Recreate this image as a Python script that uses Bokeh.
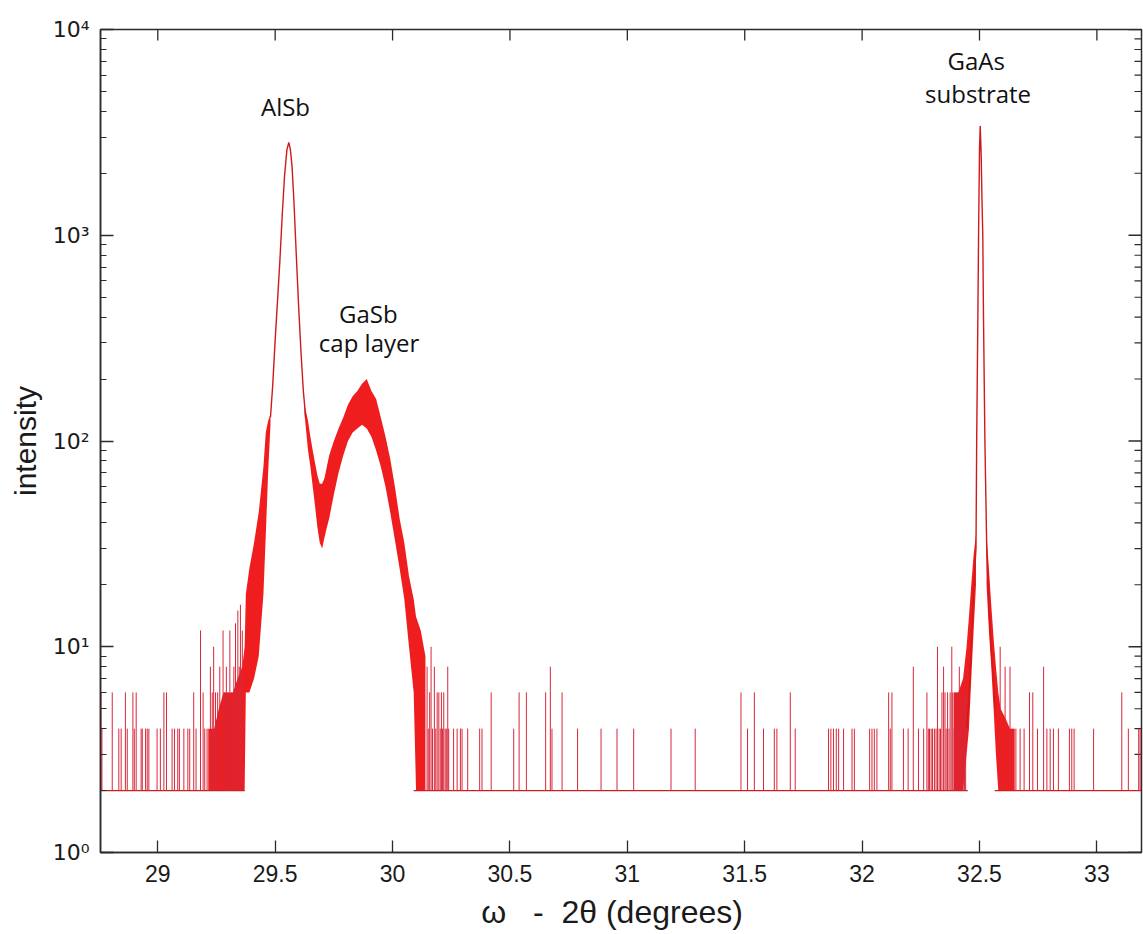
import math

from bokeh.plotting import figure
from bokeh.models import Range1d, FixedTicker, Label
from bokeh.embed import file_html
from bokeh.resources import INLINE

# ---- axis limits and ticks -------------------------------------------------
X_MIN, X_MAX = 28.756, 33.19
Y_MIN, Y_MAX = 1.0, 1.0e4
BASE = 2  # background count level of the scan

x_ticks = [29, 29.5, 30, 30.5, 31, 31.5, 32, 32.5, 33]
x_tick_labels = ["29", "29.5", "30", "30.5", "31", "31.5", "32", "32.5", "33"]
y_decades = [0, 1, 2, 3, 4]
y_tick_labels = ["10\u2070", "10\u00b9", "10\u00b2", "10\u00b3", "10\u2074"]

# ---- scan data ---------------------------------------------------------------
# stretches where the trace sits on the background level
baseline_spans = [(28.756, 29.37), (30.09, 32.45), (32.565, 33.19)]

# isolated background counts (position, intensity)
left_spikes = [
    (28.758, 6), (28.762, 4), (28.806, 6), (28.834, 4), (28.844, 4), (28.862, 6),
    (28.870, 4), (28.894, 6), (28.900, 4), (28.908, 6), (28.929, 4), (28.934, 4),
    (28.948, 4), (28.955, 4), (28.962, 4), (28.997, 4), (29.011, 4), (29.026, 6),
    (29.037, 6), (29.061, 4), (29.071, 4), (29.085, 4), (29.092, 4), (29.111, 4),
    (29.128, 4), (29.136, 4), (29.153, 6), (29.163, 4), (29.182, 12), (29.193, 6),
    (29.200, 4), (29.210, 4), (29.224, 8), (29.232, 6), (29.238, 10), (29.246, 6),
    (29.255, 6), (29.264, 8), (29.278, 12), (29.285, 6), (29.292, 8), (29.298, 6),
    (29.307, 12), (29.316, 6), (29.324, 8), (29.331, 13), (29.341, 15), (29.347, 8),
    (29.352, 16), (29.360, 12),
]
mid_spikes = [
    (30.147, 8), (30.152, 4), (30.158, 6), (30.164, 10), (30.170, 4), (30.178, 8),
    (30.184, 4), (30.190, 6), (30.197, 6), (30.203, 4), (30.208, 6), (30.213, 4),
    (30.218, 6), (30.224, 4), (30.229, 4), (30.235, 8), (30.239, 4), (30.260, 4),
    (30.275, 4), (30.289, 4), (30.296, 4), (30.320, 4), (30.371, 4), (30.381, 4),
    (30.420, 6), (30.516, 4), (30.539, 6), (30.570, 6), (30.652, 6), (30.672, 8),
    (30.679, 4), (30.722, 6), (30.788, 4), (30.888, 4), (30.956, 4), (31.027, 4),
    (31.186, 4), (31.289, 4), (31.484, 6), (31.512, 4), (31.541, 6), (31.580, 4),
    (31.626, 4), (31.637, 4), (31.694, 6), (31.715, 4), (31.857, 4), (31.867, 4),
    (31.878, 4), (31.890, 4), (31.900, 4), (31.921, 4), (31.957, 4), (31.967, 4),
    (32.032, 4), (32.042, 4), (32.052, 4), (32.063, 4),
]
gaas_left_spikes = [
    (32.113, 6), (32.120, 4), (32.127, 6), (32.176, 4), (32.196, 4), (32.218, 8),
    (32.240, 4), (32.262, 4), (32.276, 6), (32.282, 4), (32.287, 4), (32.294, 4),
    (32.300, 4), (32.308, 4), (32.315, 4), (32.321, 10), (32.328, 4), (32.334, 4),
    (32.340, 6), (32.347, 8), (32.353, 6), (32.358, 4), (32.364, 6), (32.370, 4),
    (32.375, 6), (32.382, 10), (32.386, 6), (32.392, 4), (32.397, 6), (32.403, 4),
    (32.408, 6), (32.414, 8), (32.419, 6), (32.425, 4), (32.430, 6), (32.436, 6),
    (32.441, 8),
]
right_spikes = [
    (32.588, 10), (32.609, 8), (32.630, 8), (32.640, 4), (32.655, 4), (32.673, 4),
    (32.690, 4), (32.713, 6), (32.727, 6), (32.747, 4), (32.773, 8), (32.787, 4),
    (32.801, 4), (32.815, 4), (32.836, 4), (32.883, 4), (32.893, 4), (32.903, 4),
    (32.986, 4), (33.106, 6), (33.134, 4), (33.178, 4), (33.184, 4),
]

# noisy stretches: lower and upper envelope of the counts
flank_x  = [29.215, 29.24, 29.26, 29.28, 29.30, 29.32, 29.34, 29.36, 29.37, 29.375,
            29.39, 29.41, 29.43, 29.45, 29.46, 29.47, 29.48]
flank_lo = [2, 2, 2, 2, 2, 2, 2, 2, 2, 6, 6, 7, 9, 18, 35, 70, 120]
flank_hi = [4, 4, 5, 6, 6, 6, 7, 8, 10, 18, 24, 32, 45, 75, 110, 125, 135]

gasb_x  = [29.625, 29.64, 29.65, 29.66, 29.67, 29.68, 29.69, 29.70, 29.71, 29.72,
           29.73, 29.75, 29.77, 29.79, 29.81, 29.83, 29.85, 29.87, 29.89, 29.91,
           29.93, 29.95, 29.97, 29.99, 30.01, 30.03, 30.05, 30.07, 30.09, 30.10,
           30.12, 30.14]
gasb_lo = [135, 90, 75, 60, 48, 38, 32, 30, 34, 38, 42, 55, 70, 85, 100, 110, 115,
           120, 115, 105, 90, 75, 60, 45, 33, 24, 17, 10, 6, 2, 2, 2]
gasb_hi = [150, 125, 105, 90, 78, 68, 62, 62, 66, 75, 85, 100, 115, 130, 150, 165,
           175, 190, 200, 175, 160, 130, 105, 82, 60, 42, 32, 22, 17, 14, 12, 9]

gaas_left_x  = [32.39, 32.41, 32.43, 32.445, 32.455, 32.465, 32.475, 32.485]
gaas_left_lo = [2, 2, 2, 3, 4, 7, 12, 20]
gaas_left_hi = [6, 6, 7, 10, 14, 20, 28, 35]
gaas_right_x  = [32.53, 32.54, 32.55, 32.56, 32.57, 32.58, 32.59, 32.61, 32.63, 32.65]
gaas_right_lo = [20, 12, 8, 5, 3, 2, 2, 2, 2, 2]
gaas_right_hi = [35, 24, 16, 11, 8, 6, 5, 4.5, 4, 4]

# clean peak profiles
alsb_x = [29.48, 29.49, 29.50, 29.51, 29.52, 29.53, 29.54, 29.55, 29.558, 29.565,
          29.572, 29.58, 29.59, 29.60, 29.61, 29.62, 29.63]
alsb_y = [130, 190, 310, 480, 750, 1250, 1950, 2600, 2830, 2600, 2150, 1450, 800,
          450, 270, 175, 130]

gaas_x = [32.445, 32.455, 32.461, 32.467, 32.474, 32.480, 32.485, 32.488, 32.493,
          32.496, 32.500, 32.503, 32.507, 32.511, 32.514, 32.517, 32.523, 32.531,
          32.538, 32.545, 32.552, 32.559, 32.566]
gaas_y = [4, 5.5, 8, 12, 18, 24, 30, 100, 400, 1000, 2600, 3400, 2500, 1400, 1000,
          400, 100, 29, 18, 12, 9, 7, 5]

# peak annotations: (text, position, intensity)
peak_notes = [
    ("AlSb", 29.544, 4230),
    ("GaSb", 29.897, 417),
    ("cap layer", 29.90, 300),
    ("GaAs", 32.486, 7060),
    ("substrate", 32.494, 4890),
]

# ---- figure ------------------------------------------------------------------
AXIS_COLOR = "#2b2b2b"
TEXT_COLOR = "#1a1a1a"
TRACE = "#ee1111"
THIN = "#d8283a"
TICK_FONT = "Liberation Sans"
NBSP = "\u00a0"

p = figure(
    frame_width=1041, frame_height=823,
    x_range=Range1d(X_MIN, X_MAX), y_range=Range1d(Y_MIN, Y_MAX),
    y_axis_type="log",
    output_backend="svg", toolbar_location=None,
    min_border_left=100, min_border_right=2, min_border_top=29, min_border_bottom=82,
    background_fill_color="white", border_fill_color="white",
)
p.grid.visible = False
p.outline_line_color = AXIS_COLOR
p.outline_line_width = 1.5

y_major = [10.0 ** k for k in y_decades]
y_minor = [m * 10.0 ** k for k in y_decades[:-1] for m in range(2, 10)]


def style_axis(ax, major_in, minor_in=0):
    ax.axis_line_color = AXIS_COLOR
    ax.axis_line_width = 1.5
    ax.major_tick_line_color = AXIS_COLOR
    ax.minor_tick_line_color = AXIS_COLOR
    ax.major_tick_line_width = 1.3
    ax.minor_tick_line_width = 1.1
    ax.major_tick_in = major_in
    ax.major_tick_out = 0
    ax.minor_tick_in = minor_in
    ax.minor_tick_out = 0


xax = p.xaxis[0]
xax.ticker = FixedTicker(ticks=x_ticks)
xax.major_label_overrides = {t: s for t, s in zip(x_ticks, x_tick_labels)}
style_axis(xax, 12)
xax.major_label_text_font = TICK_FONT
xax.major_label_text_font_size = "23px"
xax.major_label_text_color = TEXT_COLOR
xax.major_label_standoff = 12
xax.axis_label = ("\u03c9" + NBSP * 3 + "-" + NBSP * 2 + "2\u03b8 (degrees)" + NBSP * 2)
xax.axis_label_text_font = TICK_FONT
xax.axis_label_text_font_size = "32px"
xax.axis_label_text_font_style = "normal"
xax.axis_label_text_color = TEXT_COLOR
xax.axis_label_standoff = 9

yax = p.yaxis[0]
yax.ticker = FixedTicker(ticks=y_major, minor_ticks=y_minor)
yax.major_label_overrides = {t: s for t, s in zip(y_major, y_tick_labels)}
style_axis(yax, 13, 6)
yax.major_label_text_font = "DejaVu Sans"
yax.major_label_text_font_size = "22px"
yax.major_label_text_color = TEXT_COLOR
yax.major_label_standoff = 11
yax.axis_label = "intensity"
yax.axis_label_text_font = TICK_FONT
yax.axis_label_text_font_size = "30px"
yax.axis_label_text_font_style = "normal"
yax.axis_label_text_color = TEXT_COLOR
yax.axis_label_standoff = 8

# mirrored inward ticks on the top and right edges of the frame
p.ray(x=x_ticks, y=Y_MAX, length=11, length_units="screen", angle=-math.pi / 2,
      line_color=AXIS_COLOR, line_width=1.3)
p.ray(x=X_MAX, y=y_major, length=13, length_units="screen", angle=math.pi,
      line_color=AXIS_COLOR, line_width=1.3)
p.ray(x=X_MAX, y=y_minor, length=7, length_units="screen", angle=math.pi,
      line_color=AXIS_COLOR, line_width=1.1)

# ---- trace ---------------------------------------------------------------------
p.segment(x0=[a for a, b in baseline_spans], x1=[b for a, b in baseline_spans],
          y0=BASE, y1=BASE, line_color="#c82020", line_width=1.3)

for xs, lo, hi in [(flank_x, flank_lo, flank_hi), (gasb_x, gasb_lo, gasb_hi),
                   (gaas_left_x, gaas_left_lo, gaas_left_hi),
                   (gaas_right_x, gaas_right_lo, gaas_right_hi)]:
    p.varea(x=xs, y1=lo, y2=hi, fill_color=TRACE, fill_alpha=0.95)

for spikes in [left_spikes, mid_spikes, gaas_left_spikes, right_spikes]:
    xs = [s[0] for s in spikes]
    hs = [s[1] for s in spikes]
    p.segment(x0=xs, x1=xs, y0=BASE, y1=hs, line_color=THIN, line_width=1)

p.line(alsb_x, alsb_y, line_color="#d01a1a", line_width=1.4)
p.line(gaas_x, gaas_y, line_color="#d01a1a", line_width=1.4)

for text, x, y in peak_notes:
    p.add_layout(Label(x=x, y=y, text=text, text_align="center", text_baseline="middle",
                       text_font="Open Sans", text_font_size="24px", text_color="#111111"))

open("out.html", "w").write(file_html(p, INLINE))
